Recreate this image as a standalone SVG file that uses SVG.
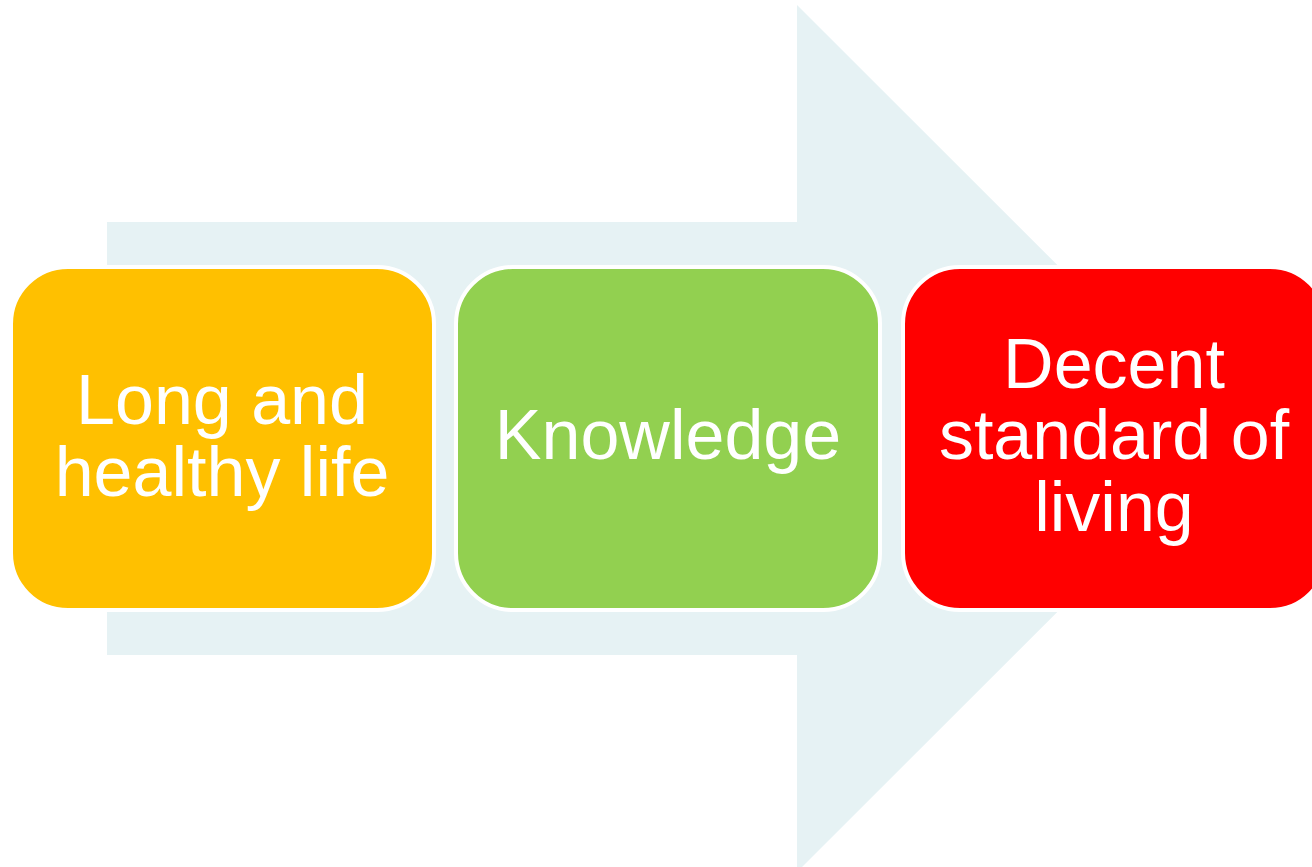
<svg xmlns="http://www.w3.org/2000/svg" width="1312" height="867" viewBox="0 0 1312 867">
<style>
.box{stroke:#FFFFFF;stroke-width:4}
.lbl{font-family:"Liberation Sans",Arial,sans-serif;font-size:70px;fill:#FFFFFF;text-anchor:middle}
</style>
<rect width="1312" height="867" fill="#FFFFFF"/>
<g id="arrow">
<polygon points="107,222 797,222 797,5 1231,438.5 797,872 797,655 107,655" fill="#E6F2F4"/>
</g>
<g id="connectors"></g>
<g id="node1">
<rect class="box" x="11" y="267" width="423" height="343" rx="57" ry="57" fill="#FFC000"/>
<text class="lbl" x="222" y="424">Long and</text>
<text class="lbl" x="222" y="496">healthy life</text>
</g>
<g id="node2">
<rect class="box" x="456" y="267" width="424" height="343" rx="57" ry="57" fill="#92D050"/>
<text class="lbl" x="668" y="459">Knowledge</text>
</g>
<g id="node3">
<rect class="box" x="903" y="267" width="424" height="343" rx="57" ry="57" fill="#FF0000"/>
<text class="lbl" x="1114" y="388">Decent</text>
<text class="lbl" x="1114" y="459">standard of</text>
<text class="lbl" x="1114" y="531">living</text>
</g>
</svg>
